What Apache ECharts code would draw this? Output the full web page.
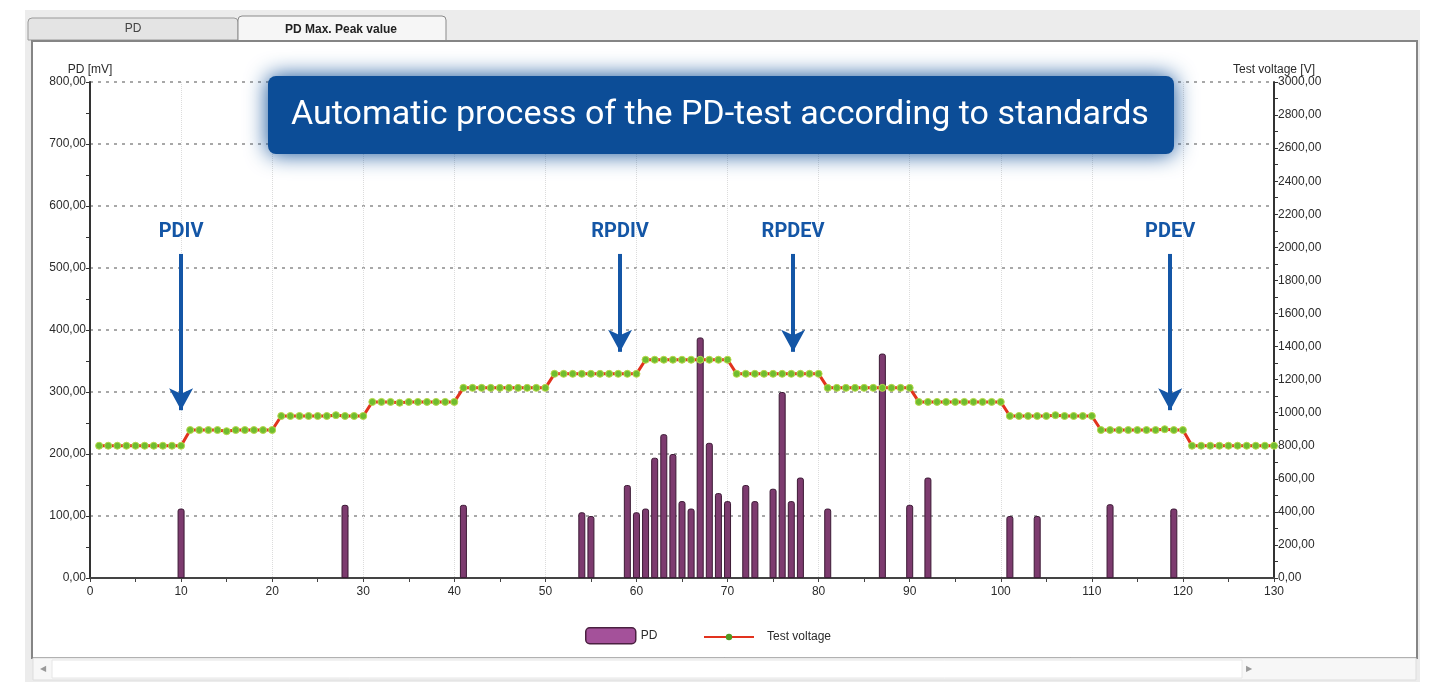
<!DOCTYPE html>
<html>
<head>
<meta charset="utf-8">
<script src="https://cdn.jsdelivr.net/npm/echarts@6/dist/echarts.min.js"></script>
<style>
  html, body { margin: 0; padding: 0; background: #fff; }
  #chart { width: 1436px; height: 682px; }
</style>
</head>
<body>
<div id="chart"></div>
<script>
// PD max peak values (mV) at the measuring step where they occurred
const pdSteps  = [10, 28, 41, 54, 55, 59, 60, 61, 62, 63, 64, 65, 66, 67, 68, 69, 70, 72, 73, 75, 76, 77, 78, 81, 87, 90, 92, 101, 104, 112, 119];
const pdValues = [112, 118, 118, 106, 100, 150, 106, 112, 194, 232, 200, 124, 112, 388, 218, 137, 124, 150, 124, 144, 300, 124, 162, 112, 362, 118, 162, 100, 100, 119, 112];

// test voltage (V) for steps 1..130
const voltage = [
  800, 800, 800, 800, 800, 800, 800, 800, 800, 800,
  895, 895, 895, 895, 888, 895, 895, 895, 895, 895,
  980, 980, 980, 980, 980, 980, 985, 980, 980, 980,
  1065, 1065, 1065, 1060, 1065, 1065, 1065, 1065, 1065, 1065,
  1150, 1150, 1150, 1150, 1150, 1150, 1150, 1150, 1150, 1150,
  1235, 1235, 1235, 1235, 1235, 1235, 1235, 1235, 1235, 1235,
  1320, 1320, 1320, 1320, 1320, 1320, 1320, 1320, 1320, 1320,
  1235, 1235, 1235, 1235, 1235, 1235, 1235, 1235, 1235, 1235,
  1150, 1150, 1150, 1150, 1150, 1150, 1150, 1150, 1150, 1150,
  1065, 1065, 1065, 1065, 1065, 1065, 1065, 1065, 1065, 1065,
  980, 980, 980, 980, 980, 985, 980, 980, 980, 980,
  895, 895, 895, 895, 895, 895, 895, 900, 895, 895,
  800, 800, 800, 800, 800, 800, 800, 800, 800, 800
];

// annotations: label, step, arrow top / tip (in V on the right axis)
const markNames = ['PDIV', 'RPDIV', 'RPDEV', 'PDEV'];
const markSteps = [10, 58.2, 77.2, 118.6];
const markTop   = [1960, 1960, 1960, 1960];
const markTip   = [1015, 1368, 1368, 1015];

const comma = v => v.toFixed(2).replace('.', ',');

let pdData = pdSteps.map((s, i) => [s, pdValues[i]]);
let voltData = voltage.map((v, i) => [i + 1, v]);
let arrows = markNames.map((n, i) => [
  { name: n, coord: [markSteps[i], markTop[i]] },
  { coord: [markSteps[i], markTip[i]] }
]);

let myChart = echarts.init(document.getElementById('chart'));
let axisFont = { color: '#2b2b2b', fontSize: 12, fontFamily: 'Liberation Sans' };
let legendFont = { color: '#2b2b2b', fontSize: 12, fontFamily: 'Liberation Sans' };

let option = {
  backgroundColor: '#fff',
  animation: false,
  grid: { left: 90, right: 162, top: 82, bottom: 104 },
  graphic: [
    // window chrome
    { type: 'rect', z: -10, shape: { x: 25, y: 10, width: 1395, height: 672 }, style: { fill: '#ececec' } },
    { type: 'rect', z: -9, shape: { x: 28, y: 18, width: 210, height: 22, r: [4, 4, 0, 0] }, style: { fill: '#e4e4e4', stroke: '#9a9a9a' } },
    { type: 'text', z: -8, style: { x: 133, y: 29, text: 'PD', fill: '#444', font: '12px Liberation Sans', align: 'center', verticalAlign: 'middle' } },
    { type: 'rect', z: -9, shape: { x: 238, y: 16, width: 208, height: 26, r: [4, 4, 0, 0] }, style: { fill: '#f6f6f6', stroke: '#8a8a8a' } },
    { type: 'text', z: -8, style: { x: 341, y: 30, text: 'PD Max. Peak value', fill: '#222', font: 'bold 12px Liberation Sans', align: 'center', verticalAlign: 'middle' } },
    { type: 'rect', z: -9, shape: { x: 32, y: 41, width: 1385, height: 617 }, style: { fill: '#fff', stroke: '#858585', lineWidth: 2 } },
    { type: 'rect', z: -8, shape: { x: 33, y: 658, width: 1383, height: 22 }, style: { fill: '#f7f7f7', stroke: '#dddddd' } },
    { type: 'rect', z: -7, shape: { x: 52, y: 660, width: 1190, height: 18 }, style: { fill: '#fff', stroke: '#e6e6e6' } },
    { type: 'text', z: -7, style: { x: 40, y: 669, text: '◀', fill: '#999', font: '8px DejaVu Sans', verticalAlign: 'middle' } },
    { type: 'text', z: -7, style: { x: 1246, y: 669, text: '▶', fill: '#999', font: '8px DejaVu Sans', verticalAlign: 'middle' } },
    // banner
    { type: 'rect', z: 50, shape: { x: 268, y: 76, width: 906, height: 78, r: 8 },
      style: { fill: '#0c4d97', shadowBlur: 22, shadowColor: 'rgba(12,77,151,1)' } },
    { type: 'text', z: 51, style: { x: 720, y: 115, text: 'Automatic process of the PD-test according to standards',
      fill: '#fff', font: '34px Roboto', align: 'center', verticalAlign: 'middle' } }
  ],
  legend: [{
    left: 580,
    top: 622,
    itemWidth: 50,
    itemHeight: 16,
    textStyle: legendFont,
    data: [{ name: 'PD', itemStyle: { color: '#a4519a', borderColor: '#4a2040', borderWidth: 1.5 } }]
  }, {
    left: 698,
    top: 626,
    itemWidth: 50,
    itemHeight: 8,
    itemGap: 10,
    textStyle: Object.assign({ padding: [0, 0, 0, 8] }, legendFont),
    data: [{ name: 'Test voltage', itemStyle: { color: '#4f9a22', borderWidth: 0 } }]
  }],
  xAxis: {
    type: 'value',
    min: 0,
    max: 130,
    interval: 10,
    axisLine: { lineStyle: { color: '#444', width: 2 } },
    axisTick: { length: 4, lineStyle: { color: '#444' } },
    minorTick: { show: true, splitNumber: 2, length: 4, lineStyle: { color: '#444' } },
    axisLabel: Object.assign({ margin: 8 }, axisFont),
    splitLine: { show: true, lineStyle: { type: 'dotted', color: '#dcdcdc' } }
  },
  yAxis: [{
    type: 'value',
    name: 'PD [mV]',
    nameGap: 6,
    nameTextStyle: axisFont,
    min: 0,
    max: 800,
    interval: 100,
    axisLine: { show: true, lineStyle: { color: '#333', width: 2 } },
    axisTick: { show: true, length: 4, lineStyle: { color: '#333' } },
    minorTick: { show: true, splitNumber: 2, length: 4, lineStyle: { color: '#333' } },
    axisLabel: Object.assign({ margin: 4, formatter: comma }, axisFont),
    splitLine: { lineStyle: { type: [3, 5], color: '#8c8c8c', width: 1.5 } }
  }, {
    type: 'value',
    name: 'Test voltage [V]',
    nameGap: 6,
    nameTextStyle: axisFont,
    min: 0,
    max: 3000,
    interval: 200,
    axisLine: { show: true, lineStyle: { color: '#333', width: 2 } },
    axisTick: { show: true, length: 4, lineStyle: { color: '#333' } },
    minorTick: { show: true, splitNumber: 2, length: 4, lineStyle: { color: '#333' } },
    axisLabel: Object.assign({ margin: 4, formatter: comma }, axisFont),
    splitLine: { show: false }
  }],
  series: [{
    name: 'PD',
    type: 'bar',
    data: pdData,
    barWidth: 7,
    itemStyle: { color: '#7d3b6f', borderColor: '#3c1a35', borderWidth: 1, borderRadius: [2, 2, 0, 0] }
  }, {
    name: 'Test voltage',
    type: 'line',
    yAxisIndex: 1,
    data: voltData,
    symbol: 'circle',
    symbolSize: 7,
    lineStyle: { color: '#e2321e', width: 3 },
    itemStyle: { color: '#6fbd2f', borderColor: '#b7d84a', borderWidth: 1 },
    z: 5,
    markLine: {
      silent: true,
      symbol: ['none', 'arrow'],
      symbolSize: [18, 22],
      lineStyle: { color: '#1456a6', width: 4, type: 'solid' },
      label: {
        show: true,
        position: 'start',
        distance: 12,
        formatter: '{b}',
        color: '#1456a6',
        fontSize: 20,
        fontWeight: 'bold',
        fontFamily: 'Roboto'
      },
      data: arrows
    }
  }]
};
myChart.setOption(option);
</script>
</body>
</html>
